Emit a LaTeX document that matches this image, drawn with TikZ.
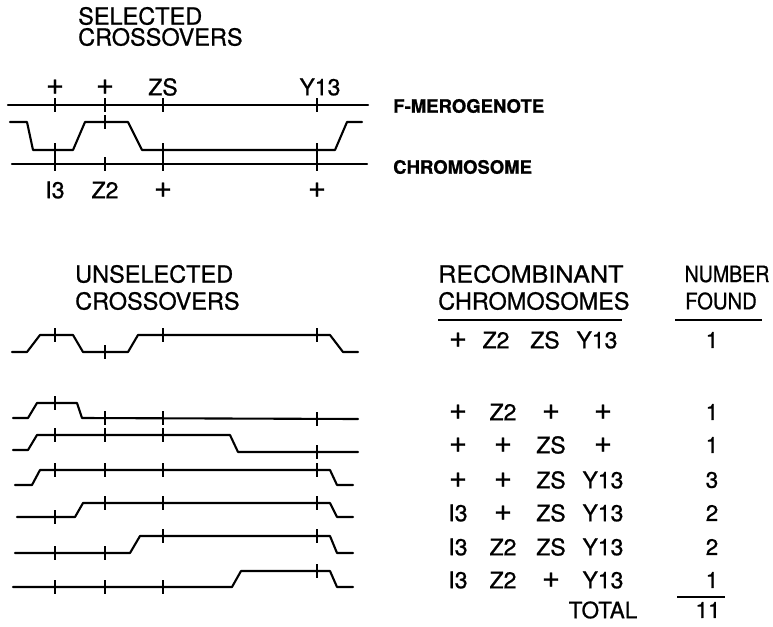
\documentclass[tikz,border=0pt]{standalone}
\usepackage{fontspec}
\usepackage{graphicx}
\setmainfont{TeX Gyre Heros}[FakeBold=0.8]
\newcommand\mytick[2]{\draw[tickline] (#1,#2-7) -- (#1,#2+7);}
\newcommand\pl{{\fontsize{31}{31}\selectfont +}}
\begin{document}
\begin{tikzpicture}[x=1pt,y=-1pt,
  chromline/.style={line width=2.1pt, line join=round, line cap=round},
  tickline/.style={line width=1.8pt},
  uline/.style={line width=1.6pt},
  head/.style={font=\fontsize{23.5}{25}\selectfont, inner sep=0pt, anchor=west},
  lab/.style={font=\fontsize{18.5}{20}\bfseries\selectfont, inner sep=0pt, anchor=west},
  tab/.style={font=\fontsize{22.5}{24}\selectfont, inner sep=0pt},
  gene/.style={font=\fontsize{23}{24}\selectfont, inner sep=0pt}]
\useasboundingbox (0,0) rectangle (773,626);

% ---------- selected crossovers ----------
\node[head] (s1) at (78,16) {SELECTED};
\node[head] (s2) at (78,37) {CROSSOVERS};

\node[gene] (ta) at (55,87) {\pl};
\node[gene] (tb) at (105,87) {\pl};
\node[gene] (tc) at (163,87) {ZS};
\node[gene] (td) at (320,87) {Y13};

\draw[chromline] (8,105) -- (368,105);
\foreach \x in {55,105,163,317} {\mytick{\x}{105}}
\draw[chromline] (10,122) -- (27,122) -- (33,150) -- (73,150) -- (85,122) -- (128,122)
  -- (142,150) -- (335,150) -- (347,122) -- (362,122);
\mytick{55}{150}\mytick{105}{122}\mytick{163}{150}\mytick{317}{150}
\draw[chromline] (12,164) -- (367,164);
\foreach \x in {55,105,163,317} {\mytick{\x}{164}}

\node[gene] (ba) at (55,190) {I3};
\node[gene] (bb) at (105,190) {Z2};
\node[gene] (bc) at (163,190) {\pl};
\node[gene] (bd) at (317,190) {\pl};

\node[lab] (fm) at (393,106) {F-MEROGENOTE};
\node[lab] (ch) at (393,167) {CHROMOSOME};

% ---------- unselected crossovers ----------
\node[head] (u1) at (75,274) {UNSELECTED};
\node[head] (u2) at (75,301) {CROSSOVERS};

% line 1
\draw[chromline] (12,352) -- (27,352) -- (40,335) -- (73,335) -- (83,352) -- (128,352)
  -- (138,335) -- (330,335) -- (343,352) -- (358,352);
\mytick{55}{335}\mytick{105}{352}\mytick{163}{335}\mytick{317}{335}
% line 2
\draw[chromline] (13,418) -- (28,418) -- (37,403) -- (77,403) -- (82,418) -- (358,419);
\mytick{55}{403}\mytick{105}{418}\mytick{163}{418}\mytick{317}{419}
% line 3
\draw[chromline] (13,450) -- (28,450) -- (37,435) -- (230,435) -- (238,452) -- (358,452);
\mytick{55}{435}\mytick{105}{435}\mytick{163}{435}\mytick{317}{452}
% line 4
\draw[chromline] (15,485) -- (32,485) -- (40,470) -- (330,470) -- (337,485) -- (353,485);
\mytick{55}{470}\mytick{105}{470}\mytick{163}{470}\mytick{317}{470}
% line 5
\draw[chromline] (17,517) -- (75,517) -- (83,503) -- (330,503) -- (337,517) -- (353,517);
\mytick{55}{517}\mytick{105}{503}\mytick{163}{503}\mytick{317}{503}
% line 6
\draw[chromline] (15,553) -- (130,553) -- (140,536) -- (330,536) -- (337,553) -- (353,553);
\mytick{55}{553}\mytick{105}{553}\mytick{163}{536}\mytick{317}{536}
% line 7
\draw[chromline] (13,587) -- (232,587) -- (241,571) -- (330,571) -- (337,587) -- (353,587);
\mytick{55}{587}\mytick{105}{587}\mytick{163}{587}\mytick{317}{571}

% ---------- table ----------
\node[head] (r1) at (438,274) {\scalebox{1.07}[1]{RECOMBINANT}};
\node[head] (r2) at (438,301) {CHROMOSOMES};
\node[tab] (n1) at (727,274) {\scalebox{0.87}[1]{NUMBER}};
\node[tab] (n2) at (721,301) {\scalebox{0.9}[1]{FOUND}};
\draw[uline] (438,320) -- (622,320);
\draw[uline] (675,320) -- (762,320);

\node[gene] (a1) at (458,340) {\pl};
\node[gene] (a2) at (496,340) {Z2};
\node[gene] (a3) at (545,340) {ZS};
\node[gene] (a4) at (597,340) {Y13};
\node[tab] (a5) at (712,340) {1};

\foreach \y/\a/\b/\c/\d/\n [count=\i] in {
  412/\pl/Z2/\pl/\pl/1,
  445/\pl/\pl/ZS/\pl/1,
  480/\pl/\pl/ZS/Y13/3,
  513/I3/\pl/ZS/Y13/2,
  547/I3/Z2/ZS/Y13/2,
  580/I3/Z2/\pl/Y13/1} {
  \node[gene] (c\i a) at (458,\y) {\a};
  \node[gene] (c\i b) at (503,\y) {\b};
  \node[gene] (c\i c) at (551,\y) {\c};
  \node[gene] (c\i d) at (603,\y) {\d};
  \node[tab] (c\i n) at (712,\y) {\n};
}
\draw[uline] (677,597) -- (725,597);
\node[tab] (tot) at (603,610) {TOTAL};
\node[tab] (tn) at (708,610) {11};
\end{tikzpicture}
\end{document}
